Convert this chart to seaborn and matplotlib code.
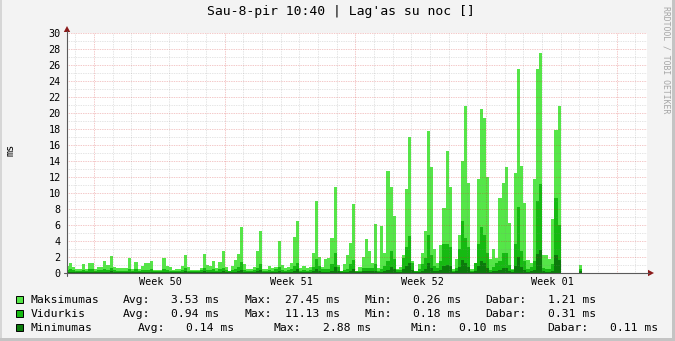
import numpy as np
import pandas as pd
import matplotlib
matplotlib.use("Agg")
import matplotlib.pyplot as plt
import seaborn as sns
from matplotlib.lines import Line2D
from matplotlib.patches import Polygon, Rectangle

# ---------------- data (4-hour bins, first bin starts 1.5 days before Monday of week 50) ----------------
max_ms = [0.9, 1.3, 0.8, 0.45, 0.5, 1.1, 0.55, 1.25, 1.25, 0.45,
          0.7, 0.8, 1.5, 1.0, 2.1, 0.7, 0.6, 0.6, 0.6, 0.6,
          1.9, 0.5, 1.4, 0.5, 0.9, 1.2, 1.2, 1.5, 0.4, 0.4,
          0.4, 1.9, 0.9, 0.7, 0.4, 0.55, 0.55, 0.9, 2.25, 0.7,
          0.4, 0.4, 0.4, 0.6, 2.4, 1.0, 0.85, 1.5, 0.6, 1.4,
          2.75, 0.8, 0.3, 0.9, 1.6, 2.4, 5.7, 1.1, 0.55, 0.45,
          0.8, 2.7, 5.3, 0.5, 0.45, 0.9, 0.6, 0.8, 4.0, 1.0,
          0.6, 0.75, 1.3, 4.5, 6.5, 0.6, 0.9, 0.6, 0.75, 2.5,
          9.0, 2.0, 0.7, 1.7, 1.9, 4.4, 10.7, 1.0, 0.3, 1.1,
          2.3, 3.7, 8.6, 0.3, 0.7, 2.0, 4.3, 2.8, 1.3, 6.1,
          0.6, 5.9, 2.5, 12.8, 10.7, 7.1, 0.45, 0.7, 2.3, 10.5,
          17.0, 1.5, 0.3, 1.1, 2.5, 5.3, 17.7, 13.3, 3.0, 1.2,
          3.5, 8.1, 15.2, 10.7, 0.5, 1.8, 4.8, 14.0, 20.9, 11.3,
          0.5, 1.1, 11.7, 20.5, 19.4, 12.0, 1.7, 3.0, 1.9, 9.4,
          11.3, 13.3, 6.3, 0.5, 12.5, 25.5, 13.4, 8.8, 1.6, 1.3,
          11.8, 25.5, 27.45, 2.3, 2.3, 1.7, 6.8, 17.9, 20.9,
          0, 0, 0, 0, 0, 0, 1.05]

avg_ms = [0.35, 0.45, 0.35, 0.3, 0.3, 0.4, 0.3, 0.45, 0.5, 0.3,
          0.35, 0.35, 0.5, 0.4, 0.6, 0.35, 0.3, 0.3, 0.3, 0.3,
          0.55, 0.3, 0.45, 0.3, 0.35, 0.4, 0.4, 0.5, 0.25, 0.25,
          0.25, 0.5, 0.35, 0.3, 0.25, 0.3, 0.3, 0.35, 0.6, 0.3,
          0.3, 0.3, 0.3, 0.35, 0.6, 0.4, 0.35, 0.5, 0.3, 0.45,
          0.6, 0.35, 0.2, 0.35, 0.5, 0.7, 1.4, 0.4, 0.3, 0.3,
          0.35, 0.6, 1.1, 0.3, 0.3, 0.35, 0.3, 0.5, 0.8, 0.4,
          0.3, 0.35, 0.45, 0.9, 1.3, 0.3, 0.35, 0.3, 0.35, 0.7,
          1.7, 0.9, 0.45, 0.45, 0.5, 1.1, 2.5, 0.8, 0.25, 0.4,
          0.45, 1.1, 1.6, 0.25, 0.3, 0.6, 0.6, 0.6, 0.6, 1.1,
          0.3, 0.5, 0.9, 1.5, 2.8, 1.7, 0.4, 0.4, 1.9, 3.2,
          4.6, 1.3, 0.25, 0.5, 1.1, 1.9, 4.8, 2.3, 0.9, 0.6,
          1.5, 3.6, 3.6, 3.2, 0.3, 0.6, 3.0, 6.5, 4.4, 3.2,
          0.3, 1.2, 3.6, 5.7, 4.8, 2.5, 0.4, 0.8, 1.2, 1.5,
          2.5, 2.5, 1.0, 0.4, 3.6, 8.2, 2.8, 1.5, 0.5, 0.7,
          1.5, 9.0, 11.13, 0.6, 0.5, 0.5, 1.1, 9.4, 6.0,
          0, 0, 0, 0, 0, 0, 0.45]

min_ms = [0.15, 0.18, 0.15, 0.12, 0.12, 0.15, 0.12, 0.15, 0.18, 0.12,
          0.12, 0.15, 0.18, 0.15, 0.2, 0.12, 0.12, 0.12, 0.12, 0.12,
          0.18, 0.12, 0.15, 0.12, 0.12, 0.15, 0.15, 0.18, 0.1, 0.1,
          0.1, 0.18, 0.12, 0.12, 0.1, 0.12, 0.12, 0.12, 0.2, 0.12,
          0.12, 0.12, 0.12, 0.12, 0.2, 0.15, 0.12, 0.15, 0.12, 0.15,
          0.2, 0.12, 0.1, 0.12, 0.15, 0.2, 0.4, 0.15, 0.12, 0.12,
          0.12, 0.2, 0.35, 0.12, 0.12, 0.12, 0.12, 0.15, 0.3, 0.15,
          0.12, 0.12, 0.15, 0.3, 0.45, 0.12, 0.12, 0.12, 0.12, 0.2,
          0.5, 0.25, 0.15, 0.15, 0.15, 0.3, 0.7, 0.25, 0.15, 0.15,
          0.15, 0.3, 0.5, 0.12, 0.12, 0.2, 0.2, 0.2, 0.2, 0.3,
          0.12, 0.15, 0.25, 0.4, 0.8, 0.5, 0.15, 0.15, 0.5, 0.9,
          1.3, 0.4, 0.15, 0.15, 0.3, 0.5, 1.2, 0.6, 0.25, 0.2,
          0.4, 0.9, 1.0, 0.9, 0.15, 0.2, 0.8, 1.6, 1.2, 0.8,
          0.15, 0.3, 0.9, 1.5, 1.3, 0.6, 0.15, 0.25, 0.3, 0.4,
          0.6, 0.6, 0.3, 0.15, 0.9, 2.0, 0.8, 0.4, 0.15, 0.2,
          0.4, 2.4, 2.88, 0.2, 0.15, 0.15, 0.3, 2.2, 1.6,
          0, 0, 0, 0, 0, 0, 0.25]

bins_per_day = 6
first_bin_day = -1.5
week_labels = ["Week 50", "Week 51", "Week 52", "Week 01"]
week_label_days = [3.57, 10.57, 17.57, 24.57]
y_ticks = list(range(0, 31, 2))

series_names = ["Maksimumas", "Vidurkis", "Minimumas"]
legend_rows = [
    ["Avg:", "3.53 ms", "Max:", "27.45 ms", "Min:", "0.26 ms", "Dabar:", "1.21 ms"],
    ["Avg:", "0.94 ms", "Max:", "11.13 ms", "Min:", "0.18 ms", "Dabar:", "0.31 ms"],
    ["Avg:", "0.14 ms", "Max:", "2.88 ms", "Min:", "0.10 ms", "Dabar:", "0.11 ms"],
]
title = "Sau-8-pir 10:40 | Lag'as su noc []"

# ---------------- style ----------------
C_MAX, C_AVG, C_MIN = "#55E648", "#16BA12", "#0B7B0B"
BG = "#F3F3F3"
W, H = 675, 341
DAY_PX = 130.67 / 7.0
X0_PX, X1_PX = 67, 647
Y0_PX, Y1_PX = 273, 33
MON50_PX = 94.0

sns.set_theme(style="white")
plt.rcParams["font.family"] = ["DejaVu Sans Mono"]

def fx(p):
    return p / W

def fy(p):
    return 1 - p / H

fig = plt.figure(figsize=(W / 100, H / 100), dpi=100, facecolor=BG)
ax = fig.add_axes([fx(X0_PX), fy(Y0_PX), (X1_PX - X0_PX) / W, (Y0_PX - Y1_PX) / H])
ax.set_facecolor("white")

n = len(max_ms)
edges = [first_bin_day + i / bins_per_day for i in range(n + 1)]
centers = [(edges[i] + edges[i + 1]) / 2 for i in range(n)]
df = pd.DataFrame({"day": centers, "max": max_ms, "avg": avg_ms, "min": min_ms})

for col, c in [("max", C_MAX), ("avg", C_AVG), ("min", C_MIN)]:
    sns.histplot(data=df, x="day", weights=col, bins=edges, element="step",
                 fill=True, color=c, alpha=1, linewidth=0, ax=ax, zorder=1)

xmin = (X0_PX - MON50_PX) / DAY_PX
xmax = (X1_PX - MON50_PX) / DAY_PX
ax.set_xlim(xmin, xmax)
ax.set_ylim(0, 30)
ax.set_xlabel("")
ax.set_ylabel("")
for s in ax.spines.values():
    s.set_visible(False)

# grid (drawn on top of data like rrdtool)
minor_c = (0.5, 0.5, 0.5, 0.28)
major_c = (0.82, 0.12, 0.12, 0.33)
dash = (0, (0.72, 1.0))
for v in range(1, 31):
    ax.axhline(v, color=major_c if v % 2 == 0 else minor_c, lw=0.72, ls=dash, zorder=3)
d = int(np.ceil(xmin))
while d <= xmax:
    ax.axvline(d, color=major_c if d % 7 == 0 else minor_c, lw=0.72, ls=dash, zorder=3)
    d += 1

ax.set_yticks(y_ticks)
ax.set_yticklabels([str(v) for v in y_ticks])
ax.set_xticks(week_label_days)
ax.set_xticklabels(week_labels)
ax.tick_params(axis="y", length=0, pad=4.6, labelsize=7.3, labelcolor="#000000")
ax.tick_params(axis="x", length=0, pad=2.6, labelsize=7.3, labelcolor="#000000")

# axes lines and arrows
axis_c = "#5A5A5A"
arrow_c = "#8B1A1A"
fig.add_artist(Line2D([fx(64), fx(649)], [fy(Y0_PX), fy(Y0_PX)], color=axis_c, lw=0.8))
fig.add_artist(Line2D([fx(X0_PX), fx(X0_PX)], [fy(276), fy(31)], color=axis_c, lw=0.8))
fig.add_artist(Polygon([[fx(648), fy(Y0_PX - 3.2)], [fx(648), fy(Y0_PX + 3.2)], [fx(654), fy(Y0_PX)]],
                       closed=True, color=arrow_c, lw=0))
fig.add_artist(Polygon([[fx(X0_PX - 3.2), fy(32)], [fx(X0_PX + 3.2), fy(32)], [fx(X0_PX), fy(26)]],
                       closed=True, color=arrow_c, lw=0))

# title, unit label, watermark
fig.text(fx(341), fy(12), title, ha="center", va="center", fontsize=9.45, color="#000000")
fig.text(fx(11), fy(150), "ms", ha="center", va="center", rotation=90, fontsize=7.3, color="#000000")
fig.text(fx(666), fy(6), "RRDTOOL / TOBI OETIKER", ha="center", va="top", rotation=270,
         fontsize=5.9, color="#A5A5A5")

# legend
row_base = [303, 317, 331]
xs_12 = [123.3, 172.2, 245, 286, 365, 414, 486.4, 549]
xs_3 = [138.6, 187, 274.2, 323.7, 411.1, 459.8, 547.6, 610.4]
sq_colors = [C_MAX, C_AVG, C_MIN]
for i, (name, row) in enumerate(zip(series_names, legend_rows)):
    yb = row_base[i]
    fig.add_artist(Rectangle((fx(15.5), fy(yb)), 7.5 / W, 7.5 / H, facecolor=sq_colors[i],
                             edgecolor="#000000", lw=0.7))
    fig.text(fx(30.5), fy(yb), name, ha="left", va="baseline", fontsize=8.2, color="#000000")
    xs = xs_3 if i == 2 else xs_12
    for xp, t in zip(xs, row):
        fig.text(fx(xp - 0.8), fy(yb), t, ha="left", va="baseline", fontsize=8.2, color="#000000")

# frame shading
fig.add_artist(Rectangle((0, 0), 2 / W, 1, facecolor="#D6D6D6", lw=0))
fig.add_artist(Rectangle((1 - 3 / W, 0), 3 / W, 1, facecolor="#C4C4C4", lw=0))
fig.add_artist(Rectangle((0, 0), 1, 3 / H, facecolor="#C4C4C4", lw=0))

fig.savefig("out.png", dpi=100, facecolor=BG)
